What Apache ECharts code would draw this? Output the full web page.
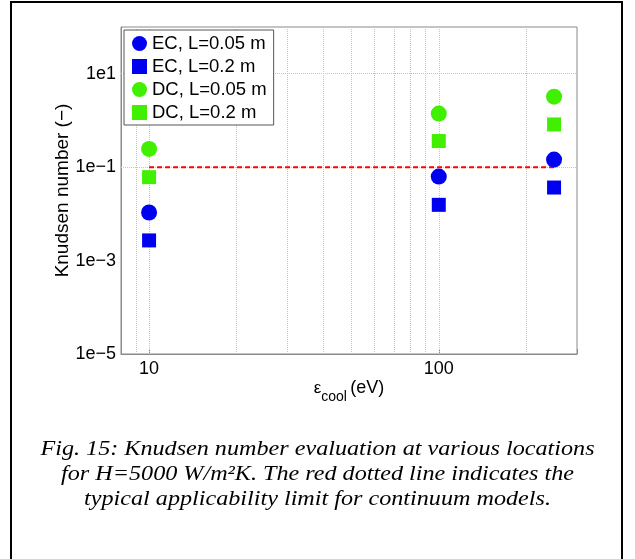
<!DOCTYPE html>
<html>
<head>
<meta charset="utf-8">
<script src="https://cdn.jsdelivr.net/npm/echarts@6/dist/echarts.min.js"></script>
<style>
  html, body { margin: 0; padding: 0; background: #ffffff; }
  #chart { width: 635px; height: 559px; }
</style>
</head>
<body>
<div id="chart"></div>
<script>
// ---- data ----
var xValues = [10, 100, 250];                 // cooling energy (eV)
var ecL005 = [0.0107, 0.0627, 0.145];         // EC, L=0.05 m
var ecL02  = [0.0027, 0.0156, 0.0366];        // EC, L=0.2 m
var dcL005 = [0.246, 1.40, 3.23];             // DC, L=0.05 m
var dcL02  = [0.061, 0.362, 0.82];            // DC, L=0.2 m
var limitX = [10, 250];                       // extent of the continuum limit line
var limitY = 0.1;                             // continuum applicability limit
var gridX = [9, 10, 20, 30, 40, 50, 60, 70, 80, 90, 100, 200];
var gridY = [10, 0.1, 0.001];
var seriesNames = ['EC, L=0.05 m', 'EC, L=0.2 m', 'DC, L=0.05 m', 'DC, L=0.2 m'];
var captionLines = [
  'Fig. 15: Knudsen number evaluation at various locations',
  'for H=5000 W/m\u00B2K. The red dotted line indicates the',
  'typical applicability limit for continuum models.'
];

function pairs(ys) { return xValues.map(function (x, i) { return [x, ys[i]]; }); }

var BLUE = '#0000f0', GREEN = '#40f000';
var FONT = '"Liberation Sans", Arial, Helvetica, sans-serif';

var chart = echarts.init(document.getElementById('chart'), null, { renderer: 'canvas' });
chart.setOption({
  animation: false,
  backgroundColor: '#ffffff',
  textStyle: { fontFamily: FONT },
  graphic: [{
    type: 'rect', silent: true, z: 100,
    shape: { x: 11, y: 2, width: 611, height: 620 },
    style: { fill: 'none', stroke: '#000000', lineWidth: 2 }
  }, {
    type: 'text', silent: true, z: 100,
    x: 317.5, y: 437, scaleX: 1.15,
    style: {
      text: captionLines.join('\n'),
      textAlign: 'center', textVerticalAlign: 'top',
      fontFamily: '"Liberation Serif", "Times New Roman", serif',
      fontStyle: 'italic', fontSize: 21, lineHeight: 25, fill: '#000000'
    }
  }],
  grid: {
    left: 121, right: 58, top: 27, bottom: 205,
    show: true, borderColor: '#8a8a8a', borderWidth: 1, backgroundColor: '#ffffff'
  },
  legend: {
    data: seriesNames,
    orient: 'vertical',
    left: 124, top: 30,
    padding: [4, 7, 3, 8],
    itemGap: 4,
    itemWidth: 15, itemHeight: 15,
    backgroundColor: '#ffffff',
    borderColor: '#555555', borderWidth: 1,
    textStyle: { fontSize: 18.5, lineHeight: 18, color: '#000000', fontFamily: FONT }
  },
  xAxis: {
    type: 'log', logBase: 10, min: 8, max: 300,
    name: '{e|\u03B5}{s|cool} {n|(eV)}',
    nameLocation: 'middle', nameGap: 18, nameMoveOverlap: false,
    nameTextStyle: {
      rich: {
        e: { fontSize: 17, color: '#000', fontFamily: FONT },
        s: { fontSize: 14, color: '#000', fontFamily: FONT, padding: [18, 0, 0, 0] },
        n: { fontSize: 18, color: '#000', fontFamily: FONT }
      }
    },
    axisLine: { lineStyle: { color: '#8a8a8a' } },
    axisTick: { show: true, inside: true, length: 5, lineStyle: { color: '#8a8a8a' } },
    splitLine: { show: false },
    axisLabel: {
      fontSize: 18, color: '#000000', margin: 6,
      formatter: function (v) {
        var l = Math.log10(v);
        return Math.abs(l - Math.round(l)) < 1e-6 ? String(Math.round(v)) : '';
      }
    }
  },
  yAxis: {
    type: 'log', logBase: 10, min: 1e-5, max: 100, interval: 1,
    name: 'Knudsen number (\u2212)',
    nameLocation: 'middle', nameGap: 49, nameRotate: 90, nameMoveOverlap: false,
    nameTextStyle: { fontSize: 19, color: '#000000', fontFamily: FONT },
    axisLine: { lineStyle: { color: '#8a8a8a' } },
    axisTick: { show: false },
    splitLine: { show: false },
    axisLabel: {
      fontSize: 18, color: '#000000', margin: 5,
      formatter: function (v) {
        var n = Math.round(Math.log10(v));
        if (Math.abs(n) % 2 !== 1) return '';
        return '1e' + (n < 0 ? '\u2212' + (-n) : n);
      }
    }
  },
  series: [
    {
      name: 'gridlines', type: 'line', data: [], z: 1, silent: true,
      markLine: {
        z: 1, silent: true, symbol: ['none', 'none'], animation: false,
        label: { show: false },
        lineStyle: { type: 'dotted', color: '#c4c4c4', width: 1 },
        data: gridX.map(function (x) { return { xAxis: x }; })
          .concat(gridY.map(function (y) { return { yAxis: y }; }))
      }
    },
    {
      name: 'limit', type: 'line', z: 2, silent: true,
      data: limitX.map(function (x) { return [x, limitY]; }),
      symbol: 'none',
      lineStyle: { color: '#ff0000', width: 2, type: [5, 3] }
    },
    { name: seriesNames[0], type: 'scatter', z: 3, symbol: 'circle', symbolSize: 16,
      itemStyle: { color: BLUE, opacity: 1 }, data: pairs(ecL005) },
    { name: seriesNames[1], type: 'scatter', z: 3, symbol: 'rect', symbolSize: 14,
      itemStyle: { color: BLUE, opacity: 1 }, data: pairs(ecL02) },
    { name: seriesNames[2], type: 'scatter', z: 3, symbol: 'circle', symbolSize: 16,
      itemStyle: { color: GREEN, opacity: 1 }, data: pairs(dcL005) },
    { name: seriesNames[3], type: 'scatter', z: 3, symbol: 'rect', symbolSize: 14,
      itemStyle: { color: GREEN, opacity: 1 }, data: pairs(dcL02) }
  ]
});
</script>
</body>
</html>
